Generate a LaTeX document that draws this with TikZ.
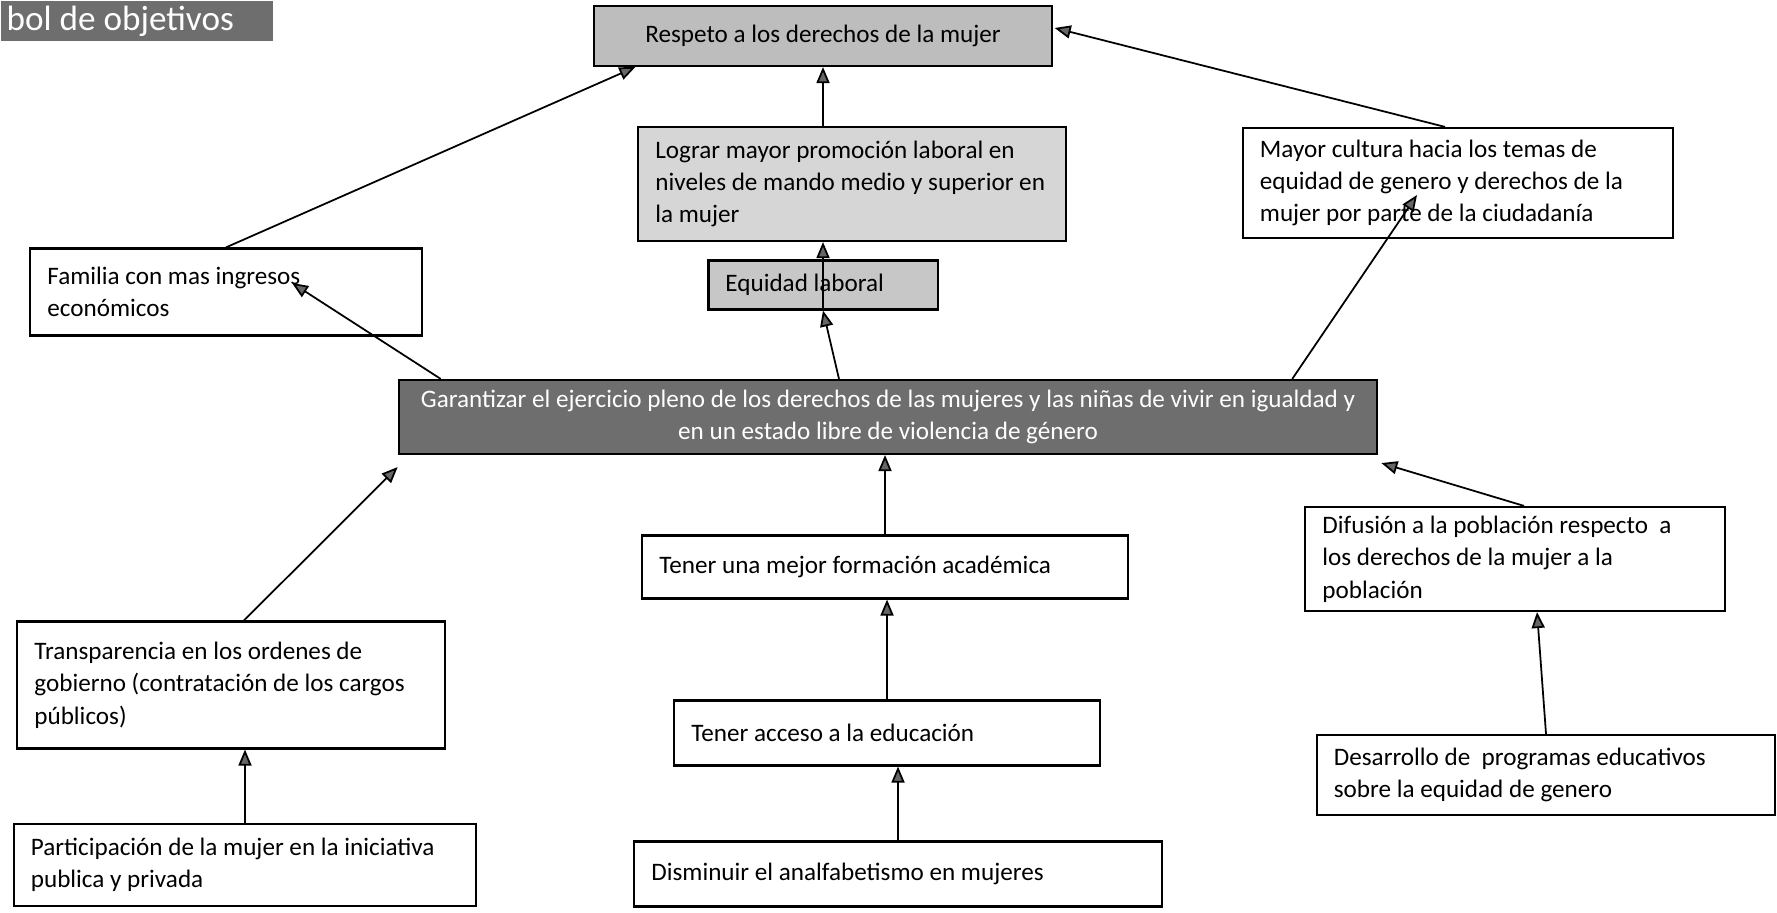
\documentclass[tikz,border=0pt]{standalone}
\usepackage{fontspec}
\setmainfont{Carlito}
\usepackage{xcolor}
\usetikzlibrary{arrows.meta,positioning,calc}

\definecolor{boxdark}{HTML}{6E6E6E}
\definecolor{boxmid}{HTML}{BDBDBD}
\definecolor{boxsoft}{HTML}{D6D6D6}

\begin{document}
\begin{tikzpicture}[
    x=0.01cm, y=0.01cm,
    font=\fontsize{7.15}{9.2}\selectfont,
    >={Triangle[length=1.6mm, width=1.3mm, fill=black!60]},
    goal/.style={draw, line width=0.6pt, fill=white, align=flush left,
                 inner xsep=1.7mm, inner ysep=0.8mm},
    darkgoal/.style={goal, fill=boxdark, text=white, align=flush center},
    link/.style={->, line width=0.5pt},
]
\useasboundingbox (0,0) rectangle (1777,913);

% --- Title tab (top left, cut by the page) ---
\node[fill=boxdark, text=white, anchor=north west, text width=2.6cm,
      inner xsep=0.6mm, inner ysep=0.5mm, minimum height=3.4mm, align=flush left,
      font=\fontsize{10}{12}\selectfont] (titulo) at (0,913) {bol de objetivos};

% --- Ends (top) ---
\node[goal, fill=boxmid, align=flush center, minimum width=4.57cm, minimum height=6mm]
      (respeto) at (823,877) {Respeto a los derechos de la mujer};
\node[goal, fill=boxsoft, text width=3.93cm, minimum height=11.4mm]
      (lograr) at (852,729) {Lograr mayor promoción laboral en\\niveles de mando medio y superior en\\la mujer};
\node[goal, text width=3.96cm, minimum height=11mm]
      (cultura) at (1458,730) {Mayor cultura hacia los temas de\\equidad de genero y derechos de la\\mujer por parte de la ciudadanía};
\node[goal, text width=3.57cm, minimum height=8.7mm]
      (familia) at (226,621) {Familia con mas ingresos\\económicos};
\node[goal, fill=boxmid!85, text width=1.95cm, minimum height=4.9mm]
      (equidad) at (823,628) {Equidad laboral};

% --- Central objective ---
\node[darkgoal, minimum width=9.78cm, minimum height=7.4mm]
      (garantizar) at (888,496) {Garantizar el ejercicio pleno de los derechos de las mujeres y las niñas de vivir en igualdad y\\en un estado libre de violencia de género};

% --- Means (bottom) ---
\node[goal, text width=4.51cm, minimum height=6.3mm]
      (formacion) at (885,346) {Tener una mejor formación académica};
\node[goal, text width=3.85cm, minimum height=10.4mm]
      (difusion) at (1515,354) {Difusión a la población respecto\ \ a\\los derechos de la mujer a la\\población};
\node[goal, text width=3.93cm, minimum height=12.7mm]
      (transparencia) at (231,228) {Transparencia en los ordenes de\\gobierno (contratación de los cargos\\públicos)};
\node[goal, text width=3.91cm, minimum height=6.5mm]
      (acceso) at (887,180) {Tener acceso a la educación};
\node[goal, text width=4.24cm, minimum height=8mm]
      (programas) at (1546,138) {Desarrollo de\ \ programas educativos\\sobre la equidad de genero};
\node[goal, text width=4.28cm, minimum height=8.2mm]
      (participacion) at (245,48) {Participación de la mujer en la iniciativa\\publica y privada};
\node[goal, text width=4.93cm, minimum height=6.5mm]
      (analfabetismo) at (898,39) {Disminuir el analfabetismo en mujeres};

% upper level -> Respeto
\draw[link] (familia.north) -- ([xshift=0.42cm]respeto.south west);
\draw[link] (lograr.north -| respeto.south) -- (respeto.south);
\draw[link] ([xshift=-0.13cm]cultura.north) -- ([shift={(0.02cm,0.08cm)}]respeto.east);

% central objective -> ends
\draw[link] ([xshift=0.43cm]garantizar.north west) -- ([shift={(0.66cm,0.09cm)}]familia.center);
\draw[link] ([xshift=-0.49cm]garantizar.north) -- (equidad.south);
\draw[link] (equidad.south) -- (equidad.south |- lograr.south);
\draw[link] ([xshift=4.04cm]garantizar.north) -- ([shift={(-0.41cm,-0.12cm)}]cultura.center);

% means -> central objective
\draw[link] ([xshift=0.13cm]transparencia.north) -- ([yshift=-0.12cm]garantizar.south west);
\draw[link] (formacion.north) -- (formacion.north |- garantizar.south);
\draw[link] ([xshift=0.09cm]difusion.north) -- ([shift={(0.03cm,-0.08cm)}]garantizar.south east);

% lower chains
\draw[link] (participacion.north) -- (participacion.north |- transparencia.south);
\draw[link] (acceso.north) -- (acceso.north |- formacion.south);
\draw[link] (analfabetismo.north) -- (analfabetismo.north |- acceso.south);
\draw[link] (programas.north) -- ([xshift=0.22cm]difusion.south);

\end{tikzpicture}
\end{document}
